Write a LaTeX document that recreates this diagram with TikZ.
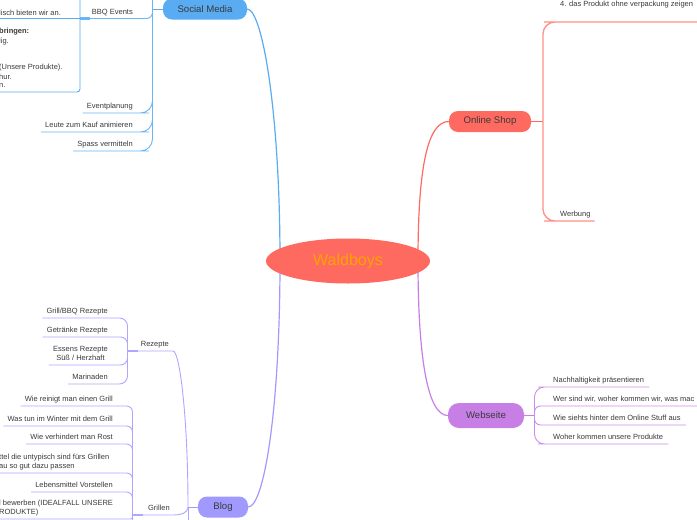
\documentclass[tikz,border=0pt]{standalone}
\usepackage{fontspec}
\setmainfont{Liberation Sans}
\usetikzlibrary{shapes.geometric}
\pgfdeclarelayer{bg}
\pgfdeclarelayer{lines}
\pgfsetlayers{bg,lines,main}
\definecolor{smc}{HTML}{5AACF2}
\definecolor{sml}{HTML}{6AB5F4}
\definecolor{osc}{HTML}{FF6A60}
\definecolor{osl}{HTML}{FF8F88}
\definecolor{wsc}{HTML}{C77FE6}
\definecolor{wsl}{HTML}{CC8DEA}
\definecolor{blc}{HTML}{A199FE}
\definecolor{bll}{HTML}{ADA7FF}
\definecolor{txt}{HTML}{3A3A3A}
\definecolor{wb}{HTML}{FFA200}
\begin{document}
\begin{tikzpicture}[x=1pt,y=-1pt,
  mainnode/.style={rounded corners=9, text=txt, font=\fontsize{9.6}{11}\selectfont, inner sep=0, minimum height=21},
  leaf/.style={text=txt, font=\fontsize{7.5}{9.5}\selectfont, inner xsep=4, inner ysep=2.5, text depth=1.5},
  boxtxt/.style={text=txt, font=\fontsize{7.5}{9}\selectfont, inner sep=0, anchor=west},
  branch/.style={line width=1.2},
  twig/.style={line width=0.9},
  stub/.style={line width=2.2}]
\useasboundingbox (0,0) rectangle (697,520);
\begin{pgfonlayer}{bg}
\fill[white] (0,0) rectangle (697,520);
\end{pgfonlayer}

% main nodes
\node[ellipse, fill=osc, minimum width=164, minimum height=45, inner sep=0, text=wb, font=\fontsize{16}{18}\selectfont] (C) at (348,261) {Waldboys};
\node[mainnode, fill=smc, minimum width=84] (SM) at (205,9) {Social Media};
\node[mainnode, fill=osc, minimum width=82] (OS) at (490,121.5) {Online Shop};
\node[mainnode, fill=wsc, minimum width=76, minimum height=25, rounded corners=11] (WS) at (486,415.5) {Webseite};
\node[mainnode, fill=blc, minimum width=50] (BL) at (223,507) {Blog};

\coordinate (cL) at (280,261);
\coordinate (cR) at (418,261);
\coordinate (JS) at (152.5,9);
\coordinate (JO) at (543,121.5);
\coordinate (JW) at (534.5,415.5);
\coordinate (JB) at (188,507);
\coordinate (JR) at (127.5,351);
\coordinate (JG) at (132.5,515);

% Social Media children
\node[leaf, anchor=south east] (bbq) at (137,18.5) {BBQ Events};
\node[leaf, anchor=south east] (ev) at (137,113) {Eventplanung};
\node[leaf, anchor=south east] (lk) at (137,132) {Leute zum Kauf animieren};
\node[leaf, anchor=south east] (sp) at (137,151) {Spass vermitteln};
\coordinate (boxR) at (80,18.5);
\coordinate (JStop) at (152.5,-12);
\node[boxtxt] (b1) at (-1,12.7) {lisch bieten wir an.};
\node[boxtxt, font=\fontsize{7.5}{9}\selectfont\bfseries] (b2) at (-1,31.7) {bringen:};
\node[boxtxt] (b3) at (-1,41.7) {lig.};
\node[boxtxt] (b4) at (-1,67.7) {(Unsere Produkte).};
\node[boxtxt] (b5) at (-1,76.5) {hur.};
\node[boxtxt] (b6) at (-1,85.3) {n.};

% Online Shop children
\node[leaf, anchor=west, inner xsep=0] (t4) at (560,5) {4. das Produkt ohne verpackung zeigen};
\coordinate (t4a) at (556,22);
\coordinate (t4b) at (700,22);
\node[leaf, anchor=south west] (wer) at (556,221) {Werbung};

% Webseite children
\node[leaf, anchor=south west, inner xsep=5] (w1) at (548,387) {Nachhaltigkeit präsentieren};
\node[leaf, anchor=south west, inner xsep=5] (w2) at (548,406) {Wer sind wir, woher kommen wir, was mac};
\coordinate (w2e) at (700,406);
\node[leaf, anchor=south west, inner xsep=5] (w3) at (548,425) {Wie siehts hinter dem Online Stuff aus};
\node[leaf, anchor=south west, inner xsep=5] (w4) at (548,444) {Woher kommen unsere Produkte};

% Blog children
\node[leaf, anchor=south east] (rz) at (173,351) {Rezepte};
\node[leaf, anchor=south east] (gr) at (174,515) {Grillen};
\node[leaf, anchor=south east] (r1) at (112,318) {Grill/BBQ Rezepte};
\node[leaf, anchor=south east] (r2) at (112,337) {Getränke Rezepte};
\node[leaf, anchor=south east, align=center] (r3) at (112,365) {Essens Rezepte\\Süß / Herzhaft};
\node[leaf, anchor=south east] (r4) at (112,384) {Marinaden};
\node[leaf, anchor=south east] (g1) at (117,406) {Wie reinigt man einen Grill};
\node[leaf, anchor=south east] (g2) at (117,426) {Was tun im Winter mit dem Grill};
\node[leaf, anchor=south east] (g3) at (117,444) {Wie verhindert man Rost};
\node[leaf, anchor=south west, align=left, inner xsep=0] (g4) at (-1,473) {ttel die untypisch sind fürs Grillen\\au so gut dazu passen};
\coordinate (g4e) at (117,473);
\node[leaf, anchor=south east] (g5) at (117,492) {Lebensmittel Vorstellen};
\node[leaf, anchor=south west, align=left, inner xsep=0] (g6) at (-1,519) {l bewerben (IDEALFALL UNSERE\\RODUKTE)};
\coordinate (g6e) at (117,519);

\begin{pgfonlayer}{lines}
% main branches
\draw[smc, branch] (cL) .. controls (280,110) and (262,9) .. (SM.east);
\draw[blc, branch] (cL) .. controls (280,410) and (264,507) .. (BL.east);
\draw[osc, branch] (cR) .. controls (418,165) and (428,121.5) .. (OS.west);
\draw[wsc, branch] (cR) .. controls (418,360) and (428,415.5) .. (WS.west);

% Social Media
\draw[smc, twig] (SM.west) -- (JS);
\draw[sml, twig] (JS) -- (JStop);
\draw[sml, twig, rounded corners=6] (JS) |- (bbq.south east) -- (bbq.south west) -- (boxR);
\draw[sml, stub] (boxR) -- ++(10,0);
\draw[smc, twig] (-5,18.5) -- (boxR);
\draw[smc, twig, rounded corners=3] (80,-10) -- (80,92) -- (-10,92);
\draw[sml, twig, rounded corners=12] (JS) |- (ev.south east) -- (ev.south west);
\draw[sml, twig, rounded corners=12] (JS) |- (lk.south east) -- (lk.south west);
\draw[sml, twig, rounded corners=12] (JS) |- (sp.south east) -- (sp.south west);

% Online Shop
\draw[osc, twig] (OS.east) -- (JO);
\draw[osl, line width=1.3, rounded corners=12] (JO) |- (t4a) -- (t4b);
\draw[osl, line width=1.3, rounded corners=12] (JO) |- (wer.south west) -- (wer.south east);

% Webseite
\draw[wsc, twig] (WS.east) -- (JW);
\draw[wsl, twig, rounded corners=10] (JW) |- (w1.south west) -- (w1.south east);
\draw[wsl, twig, rounded corners=6] (JW) |- (w2.south west) -- (w2e);
\draw[wsl, twig, rounded corners=6] (JW) |- (w3.south west) -- (w3.south east);
\draw[wsl, twig, rounded corners=10] (JW) |- (w4.south west) -- (w4.south east);

% Blog
\draw[blc, twig] (BL.west) -- (JB);
\draw[bll, twig] (JB) -- ++(0,25);
\draw[bll, twig] (JB) .. controls (188,420) and (180,351) .. (rz.south east) -- (rz.south west) -- (JR);
\draw[bll, stub] (JR) -- ++(10,0);
\draw[bll, twig] (JB) to[out=-90,in=0] (gr.south east) -- (gr.south west) -- (JG);
\draw[bll, stub] (JG) -- ++(10,0);
\draw[bll, twig, rounded corners=8] (JR) |- (r1.south east) -- (r1.south west);
\draw[bll, twig, rounded corners=7] (JR) |- (r2.south east) -- (r2.south west);
\draw[bll, twig, rounded corners=7] (JR) |- (r3.south east) -- (r3.south west);
\draw[bll, twig, rounded corners=8] (JR) |- (r4.south east) -- (r4.south west);
\draw[bll, twig, rounded corners=6] (JG) |- (g1.south east) -- (g1.south west);
\draw[bll, twig, rounded corners=6] (JG) |- (g2.south east) -- (g2.south west);
\draw[bll, twig, rounded corners=6] (JG) |- (g3.south east) -- (g3.south west);
\draw[bll, twig, rounded corners=6] (JG) |- (g4e) -- (g4.south west);
\draw[bll, twig, rounded corners=6] (JG) |- (g5.south east) -- (g5.south west);
\draw[bll, twig, rounded corners=2] (JG) |- (g6e) -- (g6.south west);
\draw[bll, twig] (JG) -- ++(0,15);
\end{pgfonlayer}
\end{tikzpicture}
\end{document}
